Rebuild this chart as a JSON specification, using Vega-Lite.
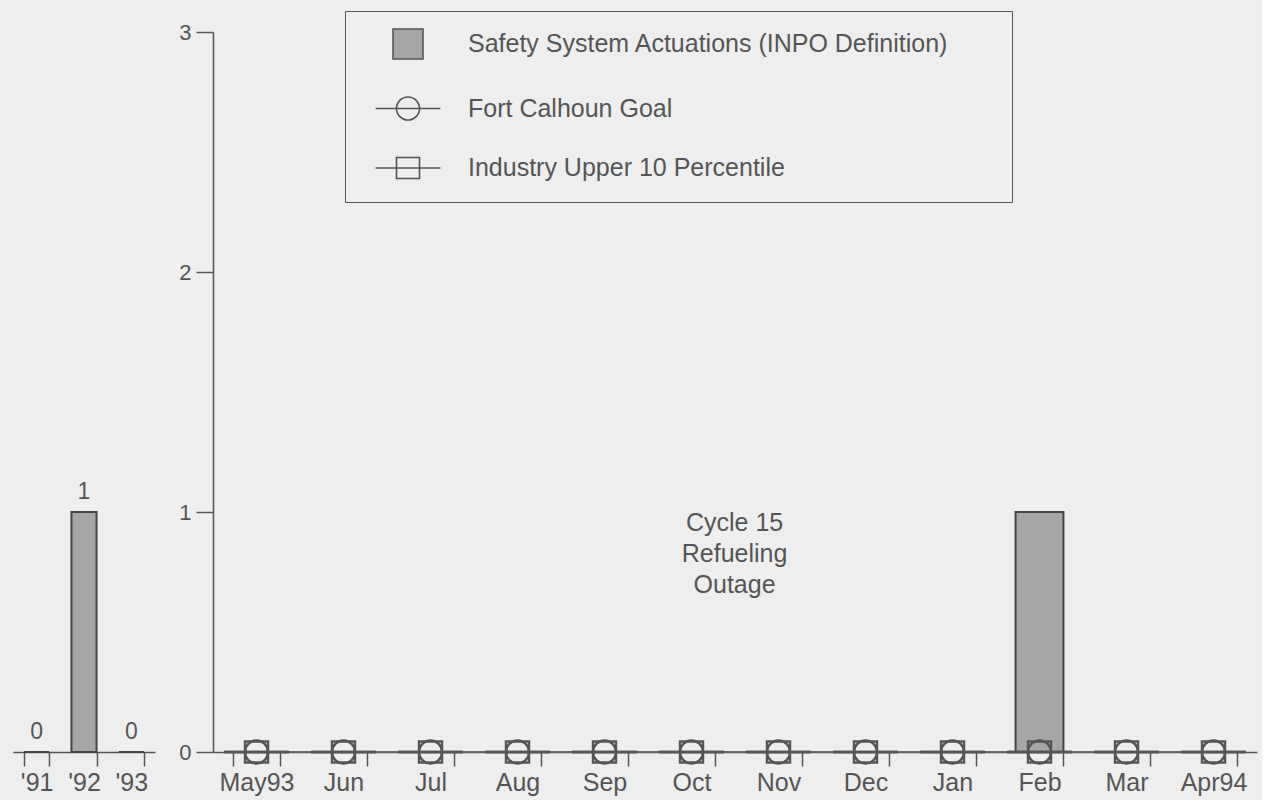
{
  "$schema": "https://vega.github.io/schema/vega-lite/v6.json",
  "background": "#eeeeee",
  "padding": {"left": 13, "top": 10, "right": 5, "bottom": 5},
  "bounds": "flush",
  "spacing": 58,
  "datasets": {
    "annual": [
      {"year": "'91", "value": 0},
      {"year": "'92", "value": 1},
      {"year": "'93", "value": 0}
    ],
    "monthly": [
      {"month": "May93", "series": "Safety System Actuations (INPO Definition)", "value": 0},
      {"month": "Jun", "series": "Safety System Actuations (INPO Definition)", "value": 0},
      {"month": "Jul", "series": "Safety System Actuations (INPO Definition)", "value": 0},
      {"month": "Aug", "series": "Safety System Actuations (INPO Definition)", "value": 0},
      {"month": "Sep", "series": "Safety System Actuations (INPO Definition)", "value": 0},
      {"month": "Oct", "series": "Safety System Actuations (INPO Definition)", "value": 0},
      {"month": "Nov", "series": "Safety System Actuations (INPO Definition)", "value": 0},
      {"month": "Dec", "series": "Safety System Actuations (INPO Definition)", "value": 0},
      {"month": "Jan", "series": "Safety System Actuations (INPO Definition)", "value": 0},
      {"month": "Feb", "series": "Safety System Actuations (INPO Definition)", "value": 1},
      {"month": "Mar", "series": "Safety System Actuations (INPO Definition)", "value": 0},
      {"month": "Apr94", "series": "Safety System Actuations (INPO Definition)", "value": 0},
      {"month": "May93", "series": "Fort Calhoun Goal", "value": 0},
      {"month": "Jun", "series": "Fort Calhoun Goal", "value": 0},
      {"month": "Jul", "series": "Fort Calhoun Goal", "value": 0},
      {"month": "Aug", "series": "Fort Calhoun Goal", "value": 0},
      {"month": "Sep", "series": "Fort Calhoun Goal", "value": 0},
      {"month": "Oct", "series": "Fort Calhoun Goal", "value": 0},
      {"month": "Nov", "series": "Fort Calhoun Goal", "value": 0},
      {"month": "Dec", "series": "Fort Calhoun Goal", "value": 0},
      {"month": "Jan", "series": "Fort Calhoun Goal", "value": 0},
      {"month": "Feb", "series": "Fort Calhoun Goal", "value": 0},
      {"month": "Mar", "series": "Fort Calhoun Goal", "value": 0},
      {"month": "Apr94", "series": "Fort Calhoun Goal", "value": 0},
      {"month": "May93", "series": "Industry Upper 10 Percentile", "value": 0},
      {"month": "Jun", "series": "Industry Upper 10 Percentile", "value": 0},
      {"month": "Jul", "series": "Industry Upper 10 Percentile", "value": 0},
      {"month": "Aug", "series": "Industry Upper 10 Percentile", "value": 0},
      {"month": "Sep", "series": "Industry Upper 10 Percentile", "value": 0},
      {"month": "Oct", "series": "Industry Upper 10 Percentile", "value": 0},
      {"month": "Nov", "series": "Industry Upper 10 Percentile", "value": 0},
      {"month": "Dec", "series": "Industry Upper 10 Percentile", "value": 0},
      {"month": "Jan", "series": "Industry Upper 10 Percentile", "value": 0},
      {"month": "Feb", "series": "Industry Upper 10 Percentile", "value": 0},
      {"month": "Mar", "series": "Industry Upper 10 Percentile", "value": 0},
      {"month": "Apr94", "series": "Industry Upper 10 Percentile", "value": 0}
    ],
    "notes": [
      {"month": "Nov", "value": 0.955, "note": "Cycle 15 Refueling Outage"}
    ]
  },
  "resolve": {"scale": {"x": "independent", "y": "independent"}},
  "hconcat": [
    {
      "width": 142,
      "height": 720,
      "data": {"name": "annual"},
      "encoding": {
        "x": {
          "field": "year", "type": "nominal", "sort": null,
          "scale": {"paddingInner": 0.47, "paddingOuter": 0.235},
          "axis": {"title": null, "tickBand": "extent", "tickSize": 14, "labelFontSize": 25, "labelPadding": 4, "labelAngle": 0}
        },
        "y": {"field": "value", "type": "quantitative", "scale": {"domain": [0, 3]}, "axis": null}
      },
      "layer": [
        {"mark": {"type": "bar", "fill": "#a6a6a6", "stroke": "#444444", "strokeWidth": 2}},
        {
          "mark": {"type": "text", "dy": -13, "baseline": "alphabetic", "fontSize": 23, "font": "Liberation Sans", "fill": "#555555"},
          "encoding": {"text": {"field": "value", "type": "quantitative"}}
        }
      ]
    },
    {
      "width": 1044,
      "height": 720,
      "data": {"name": "monthly"},
      "encoding": {
        "x": {
          "field": "month", "type": "nominal", "sort": null,
          "scale": {"paddingInner": 0.45, "paddingOuter": 0.225},
          "axis": {"title": null, "tickBand": "extent", "tickSize": 14, "labelFontSize": 25, "labelPadding": 4, "labelAngle": 0}
        },
        "y": {
          "field": "value", "type": "quantitative", "scale": {"domain": [0, 3]},
          "axis": {"title": null, "values": [0, 1, 2, 3], "tickSize": 17, "labelPadding": 5, "labelFontSize": 22}
        }
      },
      "layer": [
        {
          "transform": [{"filter": "datum.series == 'Safety System Actuations (INPO Definition)'"}],
          "mark": {"type": "bar", "stroke": "#444444", "strokeWidth": 2},
          "encoding": {
            "fill": {
              "field": "series", "type": "nominal",
              "scale": {"domain": ["Safety System Actuations (INPO Definition)", "Fort Calhoun Goal", "Industry Upper 10 Percentile"], "range": ["#a6a6a6", "transparent", "transparent"]},
              "legend": {"orient": "none", "legendX": 332, "legendY": -21, "title": null, "padding": 20, "strokeColor": "#555555", "symbolSize": 576, "symbolOffset": 30, "labelOffset": 47, "rowPadding": 30.5, "labelFontSize": 25, "labelFont": "Liberation Sans", "labelColor": "#555555", "symbolStrokeColor": "#555555", "symbolStrokeWidth": 1.6, "labelLimit": 0, "labelExpr": "indexof(datum.label, 'Safety') == 0 ? datum.label + '\u2800\u00a0\u2800' : datum.label"}
            }
          }
        },
        {
          "transform": [{"filter": "datum.series != 'Safety System Actuations (INPO Definition)'"}],
          "mark": {"type": "line", "stroke": "#666666", "strokeWidth": 1.5},
          "encoding": {"detail": {"field": "series", "type": "nominal"}}
        },
        {
          "transform": [{"filter": "datum.series != 'Safety System Actuations (INPO Definition)'"}],
          "mark": {"type": "point", "filled": false, "stroke": "#555555", "strokeWidth": 2.4, "size": 576, "opacity": 1},
          "encoding": {
            "shape": {
              "field": "series", "type": "nominal",
              "scale": {"domain": ["Safety System Actuations (INPO Definition)", "Fort Calhoun Goal", "Industry Upper 10 Percentile"], "range": ["M-1.25,-1.25H1.25V1.25H-1.25Z", "M-2.7,0H2.7M-0.96,0A0.96,0.96 0 1,1 0.96,0A0.96,0.96 0 1,1 -0.96,0", "M-2.7,0H2.7M-0.96,-0.875H0.96V0.875H-0.96Z"]},
              "legend": {"orient": "none", "legendX": 332, "legendY": -21, "title": null, "padding": 20, "strokeColor": "#555555", "symbolSize": 576, "symbolOffset": 30, "labelOffset": 47, "rowPadding": 30.5, "labelFontSize": 25, "labelFont": "Liberation Sans", "labelColor": "#555555", "symbolStrokeColor": "#555555", "symbolStrokeWidth": 1.6, "labelLimit": 0, "labelExpr": "indexof(datum.label, 'Safety') == 0 ? datum.label + '\u2800\u00a0\u2800' : datum.label"}
            },
            "fill": {
              "field": "series", "type": "nominal",
              "scale": {"domain": ["Safety System Actuations (INPO Definition)", "Fort Calhoun Goal", "Industry Upper 10 Percentile"], "range": ["#a6a6a6", "transparent", "transparent"]},
              "legend": {"orient": "none", "legendX": 332, "legendY": -21, "title": null, "padding": 20, "strokeColor": "#555555", "symbolSize": 576, "symbolOffset": 30, "labelOffset": 47, "rowPadding": 30.5, "labelFontSize": 25, "labelFont": "Liberation Sans", "labelColor": "#555555", "symbolStrokeColor": "#555555", "symbolStrokeWidth": 1.6, "labelLimit": 0, "labelExpr": "indexof(datum.label, 'Safety') == 0 ? datum.label + '\u2800\u00a0\u2800' : datum.label"}
            }
          }
        },
        {
          "data": {"name": "notes"},
          "mark": {"type": "text", "text": ["Cycle 15", "Refueling", "Outage"], "fontSize": 25, "lineHeight": 31, "baseline": "middle", "align": "center", "font": "Liberation Sans", "fill": "#555555", "dx": -20},
          "encoding": {
            "x": {"field": "month", "type": "nominal", "bandPosition": 0},
            "y": {"field": "value", "type": "quantitative"}
          }
        }
      ]
    }
  ],
  "config": {
    "font": "Liberation Sans",
    "view": {"stroke": null},
    "axis": {"grid": false, "labelFont": "Liberation Sans", "labelColor": "#555555", "domainColor": "#555555", "tickColor": "#555555", "domainWidth": 1.5, "tickWidth": 1.5}
  }
}
